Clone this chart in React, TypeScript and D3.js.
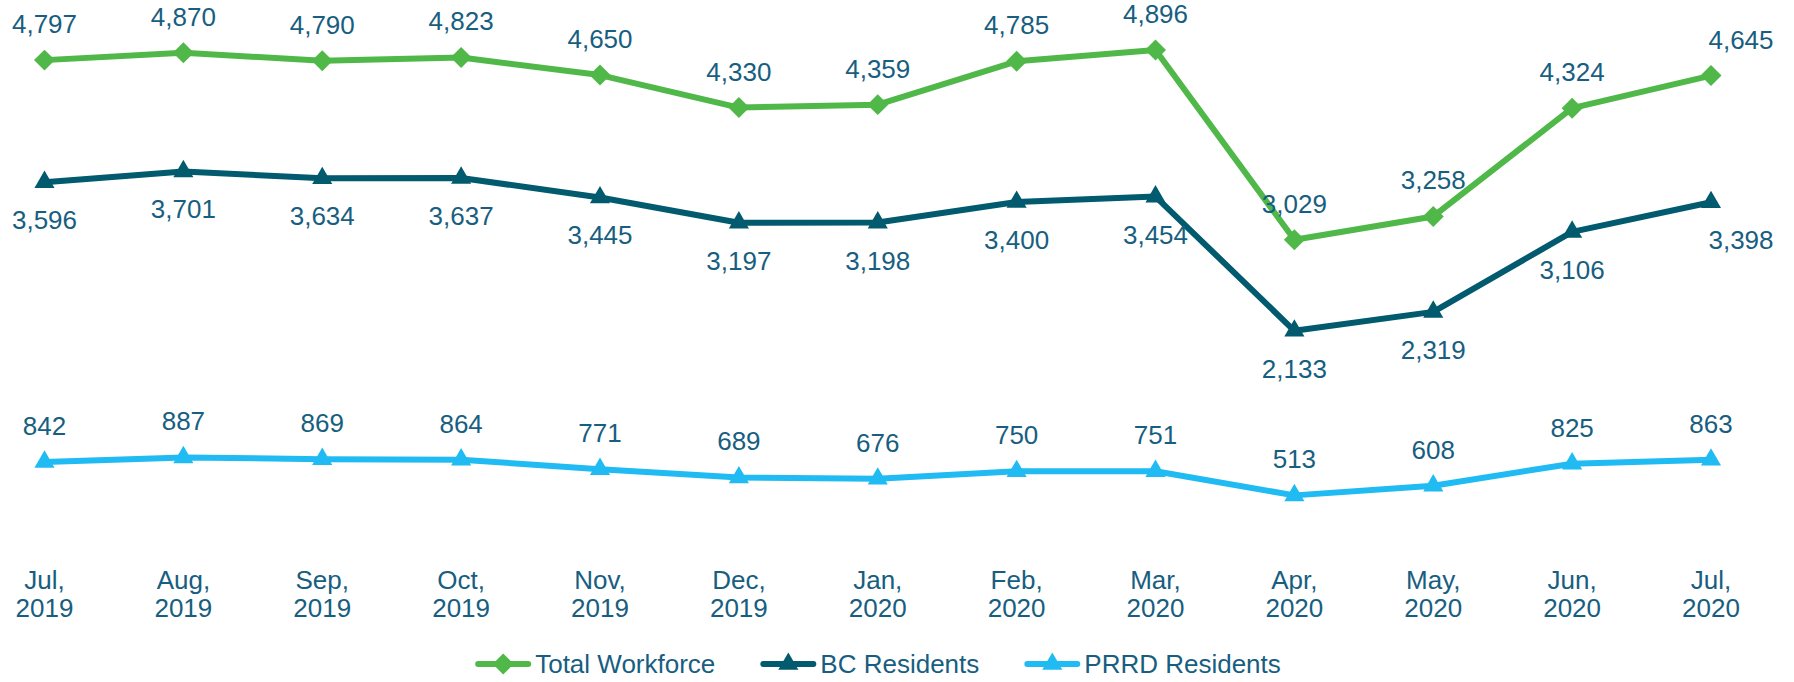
import React, { useEffect, useRef } from "react";
import * as d3 from "d3";

const months = [
  "Jul,|2019", "Aug,|2019", "Sep,|2019", "Oct,|2019", "Nov,|2019", "Dec,|2019",
  "Jan,|2020", "Feb,|2020", "Mar,|2020", "Apr,|2020", "May,|2020", "Jun,|2020", "Jul,|2020",
];
const totalWorkforce = [4797, 4870, 4790, 4823, 4650, 4330, 4359, 4785, 4896, 3029, 3258, 4324, 4645];
const bcResidents = [3596, 3701, 3634, 3637, 3445, 3197, 3198, 3400, 3454, 2133, 2319, 3106, 3398];
const prrdResidents = [842, 887, 869, 864, 771, 689, 676, 750, 751, 513, 608, 825, 863];
const seriesNames = ["Total Workforce", "BC Residents", "PRRD Residents"];

const W = 1794;
const H = 682;
const textColor = "#175e80";
const font = "'Liberation Sans', Arial, sans-serif";

const App: React.FC = () => {
  const svgRef = useRef<SVGSVGElement | null>(null);

  useEffect(() => {
    if (!svgRef.current) return;
    const svg = d3.select(svgRef.current);
    svg.selectAll("*").remove();

    const x = d3.scalePoint<number>().domain(d3.range(months.length)).range([44.5, 1711]);
    const y = d3.scaleLinear().domain([0, 5000]).range([547.5, 39.5]);

    const diamond = d3.symbol().type(d3.symbolSquare).size(220);
    const triangle = d3.symbol().type(d3.symbolTriangle).size(175);

    const series = [
      { name: seriesNames[0], values: totalWorkforce, color: "#4fb848", marker: "diamond", above: true },
      { name: seriesNames[1], values: bcResidents, color: "#015a6e", marker: "triangle", above: false },
      { name: seriesNames[2], values: prrdResidents, color: "#1fbbf2", marker: "triangle", above: true },
    ];

    const line = d3
      .line<number>()
      .x((_, i) => x(i)!)
      .y((d) => y(d));

    series.forEach((s) => {
      const g = svg.append("g");
      g.append("path")
        .datum(s.values)
        .attr("fill", "none")
        .attr("stroke", s.color)
        .attr("stroke-width", 6)
        .attr("stroke-linejoin", "round")
        .attr("d", line);

      g.selectAll(".m")
        .data(s.values)
        .enter()
        .append("path")
        .attr("fill", s.color)
        .attr("d", s.marker === "diamond" ? diamond()! : triangle()!)
        .attr(
          "transform",
          (d, i) => `translate(${x(i)},${y(d)})` + (s.marker === "diamond" ? " rotate(45)" : "")
        );

      // last labels of the two upper series sit a bit to the right
      const last = s.values.length - 1;
      g.selectAll(".lbl")
        .data(s.values)
        .enter()
        .append("text")
        .attr("x", (_, i) => x(i)! + (i === last && s.name !== seriesNames[2] ? 30 : 0))
        .attr("y", (d) => y(d) + (s.above ? -27 : 47))
        .attr("text-anchor", "middle")
        .attr("font-family", font)
        .attr("font-size", 26)
        .attr("fill", textColor)
        .text((d) => d3.format(",")(d));
    });

    // x axis labels
    const ax = svg.append("g");
    months.forEach((m, i) => {
      const [mon, yr] = m.split("|");
      const t = ax
        .append("text")
        .attr("text-anchor", "middle")
        .attr("font-family", font)
        .attr("font-size", 26)
        .attr("fill", textColor);
      t.append("tspan").attr("x", x(i)!).attr("y", 589).text(mon);
      t.append("tspan").attr("x", x(i)!).attr("y", 617).text(yr);
    });

    // legend
    const legend = svg.append("g");
    const items: { g: any; w: number }[] = [];
    series.forEach((s) => {
      const g = legend.append("g");
      g.append("line")
        .attr("x1", 3)
        .attr("x2", 53)
        .attr("y1", 0)
        .attr("y2", 0)
        .attr("stroke", s.color)
        .attr("stroke-width", 6)
        .attr("stroke-linecap", "round");
      g.append("path")
        .attr("fill", s.color)
        .attr("d", s.marker === "diamond" ? diamond()! : triangle()!)
        .attr("transform", "translate(28,0)" + (s.marker === "diamond" ? " rotate(45)" : ""));
      const t = g
        .append("text")
        .attr("x", 60)
        .attr("y", 8.5)
        .attr("font-family", font)
        .attr("font-size", 26)
        .attr("fill", textColor)
        .text(s.name);
      const tw = (t.node() as SVGTextElement).getComputedTextLength();
      items.push({ g, w: 60 + tw });
    });
    const gap = 45;
    const total = d3.sum(items, (d) => d.w) + gap * (items.length - 1);
    let cx = 878 - total / 2;
    items.forEach((it) => {
      it.g.attr("transform", `translate(${cx},664)`);
      cx += it.w + gap;
    });
  }, []);

  return (
    <div style={{ position: "absolute", left: 0, top: 0, background: "#fff" }}>
      <svg ref={svgRef} width={W} height={H} style={{ display: "block" }}></svg>
    </div>
  );
};

export default App;
